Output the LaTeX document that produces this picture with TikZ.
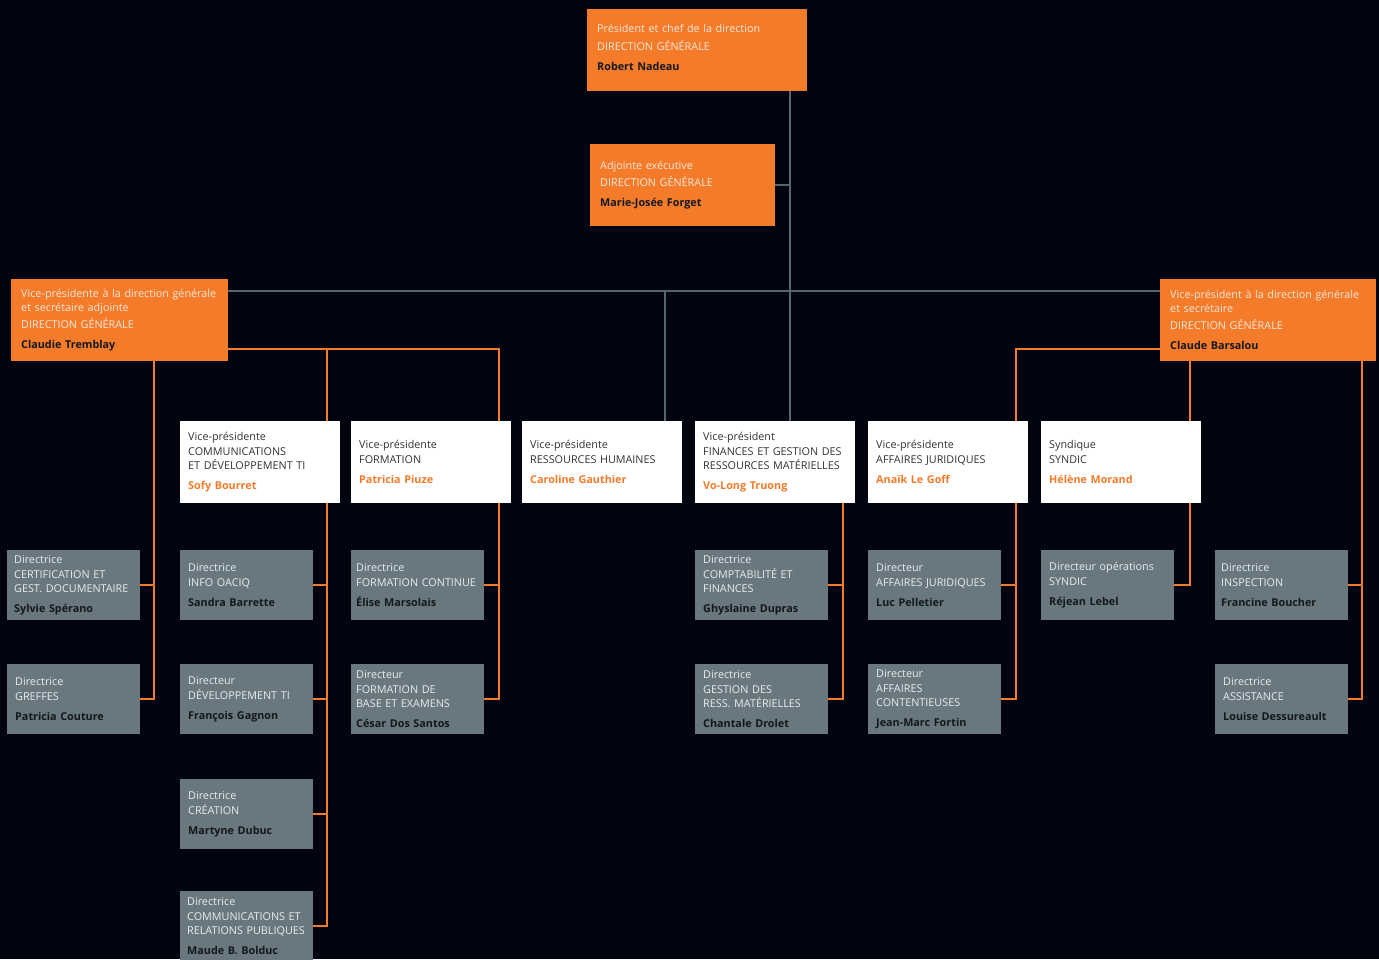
\documentclass[tikz,border=0pt]{standalone}
\usepackage{fontspec}
\setmainfont{Open Sans}
\definecolor{bgnavy}{HTML}{02050F}
\definecolor{oacorange}{HTML}{F47B2A}
\definecolor{boxgrey}{HTML}{68787E}
\definecolor{linegrey}{HTML}{56666E}
\definecolor{peach}{HTML}{FDE8DA}
\definecolor{paletext}{HTML}{E8ECEE}
\definecolor{darktext}{HTML}{14181C}
\definecolor{inktext}{HTML}{333333}

% role / title / name inside a box
\newcommand{\card}[3]{#1\\[\rolegap]#2\\[6.2pt]{\bfseries\color{namecol}#3}}

\tikzset{
card/.style={anchor=north west, align=left, inner ysep=0pt,
  font=\fontsize{10.8}{13.8}\selectfont},
orangebox/.style={card, fill=oacorange, text=peach, minimum height=82pt,
  inner xsep=10pt, text width=200pt,
  execute at begin node={\colorlet{namecol}{darktext}\def\rolegap{3.7pt}}},
whitebox/.style={card, fill=white, text=inktext, minimum height=82pt,
  inner xsep=8pt, text width=144pt,
  execute at begin node={\colorlet{namecol}{oacorange}\def\rolegap{1.2pt}}},
greybox/.style={card, fill=boxgrey, text=paletext, minimum height=70pt,
  inner xsep=8pt, text width=117pt,
  execute at begin node={\colorlet{namecol}{darktext}\def\rolegap{1.2pt}}},
greyline/.style={draw=linegrey, line width=1.6pt},
orangeline/.style={draw=oacorange, line width=1.6pt}
}

\begin{document}
\begin{tikzpicture}[x=1pt, y=-1pt]
  \fill[bgnavy] (0,0) rectangle (1379,959);
  \useasboundingbox (0,0) rectangle (1379,959);

  % direction generale
  \node[orangebox] (pres) at (587,9) {\card{Président et chef de la direction}{DIRECTION GÉNÉRALE}{Robert Nadeau}\\[-7.8pt]\mbox{}};
  \node[orangebox, text width=165pt] (adj) at (590,144) {\card{Adjointe exécutive}{DIRECTION GÉNÉRALE}{Marie-Josée Forget}};
  \node[orangebox, inner xsep=10pt, text width=197pt] (lvp) at (11,279)
    {\card{Vice-présidente à la direction générale\\et secrétaire adjointe}{DIRECTION GÉNÉRALE}{Claudie Tremblay}};
  \node[orangebox, inner xsep=10pt, text width=196pt] (rvp) at (1160,279)
    {\card{Vice-président à la direction générale\\et secrétaire}{DIRECTION GÉNÉRALE}{Claude Barsalou}};

  % vice-presidences
  \node[whitebox] (comm) at (180,421) {\card{Vice-présidente}{COMMUNICATIONS\\ET DÉVELOPPEMENT TI}{Sofy Bourret}};
  \node[whitebox] (form) at (351,421) {\card{Vice-présidente}{FORMATION}{Patricia Piuze}};
  \node[whitebox] (rh) at (522,421) {\card{Vice-présidente}{RESSOURCES HUMAINES}{Caroline Gauthier}};
  \node[whitebox] (fin) at (695,421) {\card{Vice-président}{FINANCES ET GESTION DES\\RESSOURCES MATÉRIELLES}{Vo-Long Truong}};
  \node[whitebox] (aff) at (868,421) {\card{Vice-présidente}{AFFAIRES JURIDIQUES}{Anaïk Le Goff}};
  \node[whitebox] (syn) at (1041,421) {\card{Syndique}{SYNDIC}{Hélène Morand}};

  % directions
  \node[greybox, inner xsep=7pt, text width=119pt] (certif) at (7,550) {\card{Directrice}{CERTIFICATION ET\\GEST. DOCUMENTAIRE}{Sylvie Spérano}};
  \node[greybox] (greffes) at (7,664) {\card{Directrice}{GREFFES}{Patricia Couture}};
  \node[greybox] (oaciq) at (180,550) {\card{Directrice}{INFO OACIQ}{Sandra Barrette}};
  \node[greybox] (devti) at (180,664) {\card{Directeur}{DÉVELOPPEMENT TI}{François Gagnon}};
  \node[greybox] (creation) at (180,779) {\card{Directrice}{CRÉATION}{Martyne Dubuc}};
  \node[greybox, inner xsep=7pt, text width=119pt] (commrp) at (180,891) {\card{Directrice}{COMMUNICATIONS ET\\RELATIONS PUBLIQUES}{Maude B. Bolduc}};
  \node[greybox, inner xsep=5pt, text width=123pt] (fcont) at (351,550) {\card{Directrice}{FORMATION CONTINUE}{Élise Marsolais}};
  \node[greybox, inner xsep=5pt, text width=123pt] (fbase) at (351,664) {\card{Directeur}{FORMATION DE\\BASE ET EXAMENS}{César Dos Santos}};
  \node[greybox] (compta) at (695,550) {\card{Directrice}{COMPTABILITÉ ET\\FINANCES}{Ghyslaine Dupras}};
  \node[greybox] (gestion) at (695,664) {\card{Directrice}{GESTION DES\\RESS. MATÉRIELLES}{Chantale Drolet}};
  \node[greybox] (affjur) at (868,550) {\card{Directeur}{AFFAIRES JURIDIQUES}{Luc Pelletier}};
  \node[greybox] (content) at (868,664) {\card{Directeur}{AFFAIRES\\CONTENTIEUSES}{Jean-Marc Fortin}};
  \node[greybox] (lebel) at (1041,550) {\card{Directeur opérations}{SYNDIC}{Réjean Lebel}};
  \node[greybox, inner xsep=6pt, text width=121pt] (inspect) at (1215,550) {\card{Directrice}{INSPECTION}{Francine Boucher}};
  \node[greybox] (assist) at (1215,664) {\card{Directrice}{ASSISTANCE}{Louise Dessureault}};

  % spines
  \coordinate (trunk) at (790,291);
  \coordinate (rhdrop) at (665,0);
  \coordinate (obus) at (0,349);
  \coordinate (spA) at (154,0);
  \coordinate (spB) at (327,0);
  \coordinate (spC) at (499,0);
  \coordinate (spD) at (843,0);
  \coordinate (spE) at (1016,0);
  \coordinate (spF) at (1190,0);
  \coordinate (spG) at (1362,0);

  % grey links
  \draw[greyline] (pres.south -| trunk) -- (fin.north -| trunk);
  \draw[greyline] (adj.east) -- (adj.east -| trunk);
  \draw[greyline] (lvp.east |- trunk) -- (rvp.west |- trunk);
  \draw[greyline] (rhdrop |- trunk) -- (rh.north -| rhdrop);

  % orange links
  \draw[orangeline] (lvp.east |- obus) -| (form.north -| spC);
  \draw[orangeline] (spB |- obus) -- (comm.north -| spB);
  \draw[orangeline] (rvp.west |- obus) -| (aff.north -| spE);
  \draw[orangeline] (rvp.south -| spF) -- (syn.north -| spF);

  \draw[orangeline] (lvp.south -| spA) |- (greffes.east);
  \draw[orangeline] (certif.east) -- (certif.east -| spA);
  \draw[orangeline] (comm.south -| spB) |- (commrp.east);
  \draw[orangeline] (oaciq.east) -- (oaciq.east -| spB);
  \draw[orangeline] (devti.east) -- (devti.east -| spB);
  \draw[orangeline] (creation.east) -- (creation.east -| spB);
  \draw[orangeline] (form.south -| spC) |- (fbase.east);
  \draw[orangeline] (fcont.east) -- (fcont.east -| spC);
  \draw[orangeline] (fin.south -| spD) |- (gestion.east);
  \draw[orangeline] (compta.east) -- (compta.east -| spD);
  \draw[orangeline] (aff.south -| spE) |- (content.east);
  \draw[orangeline] (affjur.east) -- (affjur.east -| spE);
  \draw[orangeline] (syn.south -| spF) |- (lebel.east);
  \draw[orangeline] (rvp.south -| spG) |- (assist.east);
  \draw[orangeline] (inspect.east) -- (inspect.east -| spG);
\end{tikzpicture}
\end{document}
